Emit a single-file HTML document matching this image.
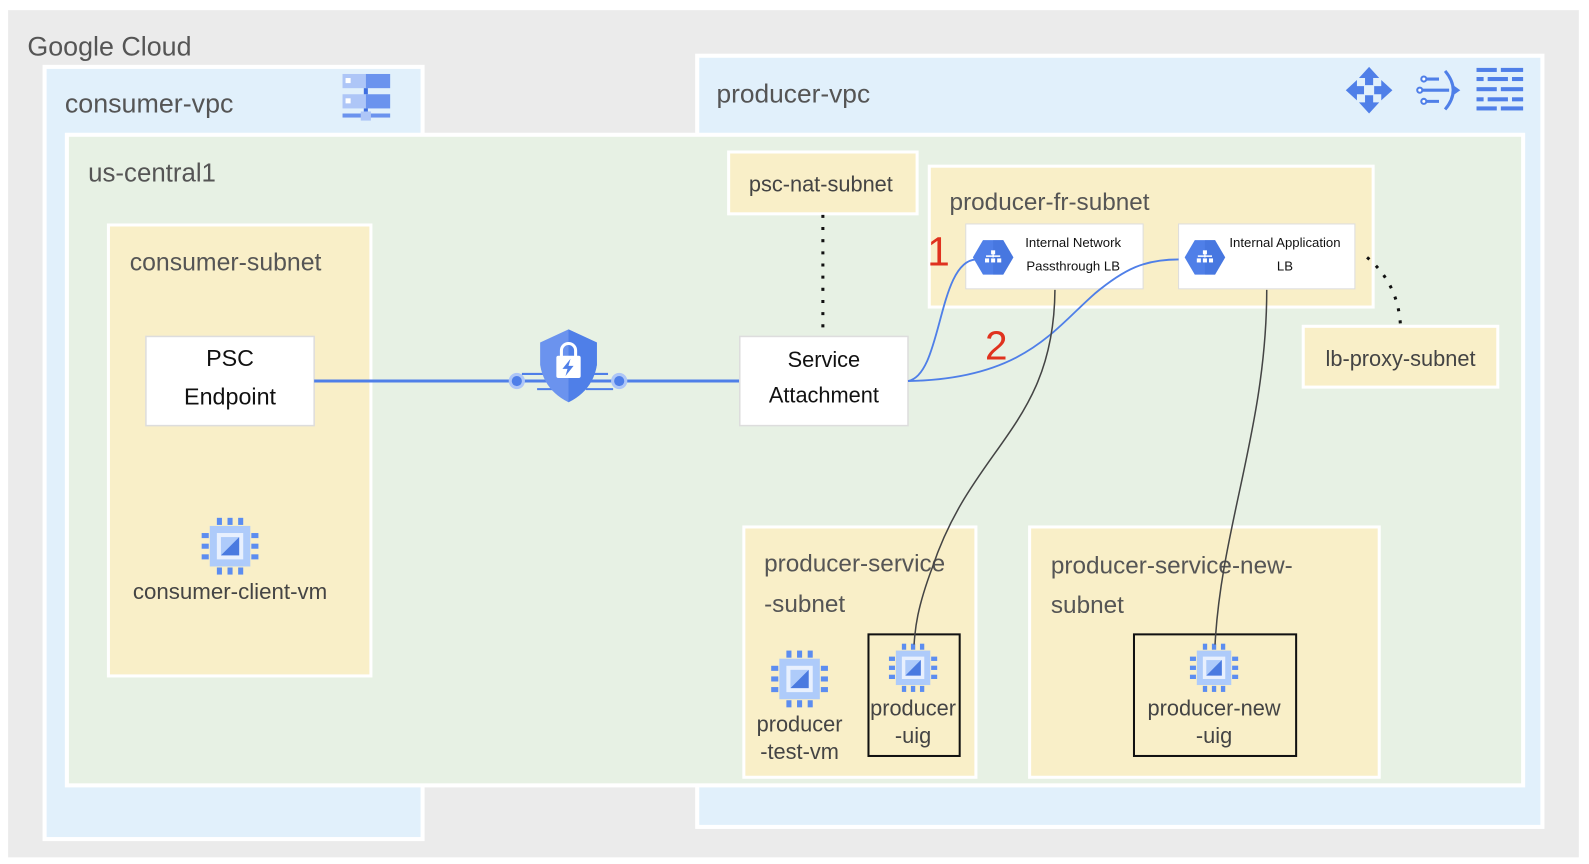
<!DOCTYPE html>
<html><head><meta charset="utf-8"><style>
html,body{margin:0;padding:0;background:#fff;}
svg{display:block;}
text{font-family:"Liberation Sans",sans-serif;}
</style></head><body>
<svg width="1589" height="864" viewBox="0 0 1568 852.6" preserveAspectRatio="none" xmlns="http://www.w3.org/2000/svg">
<defs>
<g id="chip">
 <rect x="-20" y="-20" width="40" height="40" fill="#aecbfa"/>
 <rect x="-13" y="-13" width="26" height="26" fill="#e8f0fe"/>
 <rect x="-9" y="-9" width="18" height="18" fill="#aecbfa"/>
 <polygon points="9,-9 9,9 -9,9" fill="#4a7ae0"/>
 <g fill="#5c8df0">
  <rect x="-13" y="-28" width="5" height="7"/><rect x="-2.5" y="-28" width="5" height="7"/><rect x="8" y="-28" width="5" height="7"/>
  <rect x="-13" y="21" width="5" height="7"/><rect x="-2.5" y="21" width="5" height="7"/><rect x="8" y="21" width="5" height="7"/>
  <rect x="-28" y="-13" width="7" height="5"/><rect x="-28" y="-2.5" width="7" height="5"/><rect x="-28" y="8" width="7" height="5"/>
  <rect x="21" y="-13" width="7" height="5"/><rect x="21" y="-2.5" width="7" height="5"/><rect x="21" y="8" width="7" height="5"/>
 </g>
</g>
<g id="lbicon">
 <polygon points="-10,-17 10,-17 20,0 10,17 -10,17 -20,0" fill="#4f7fe8"/>
 <polygon points="0,-17 10,-17 20,0 10,17 0,17" fill="#3f6fd8" opacity="0.5"/>
 <g fill="#fff"><rect x="-2" y="-7" width="4" height="4"/><rect x="-7" y="-2" width="14" height="1.5"/><rect x="-0.7" y="-3" width="1.4" height="3"/>
 <rect x="-8" y="1" width="4" height="4"/><rect x="-2" y="1" width="4" height="4"/><rect x="4" y="1" width="4" height="4"/></g>
</g>
</defs>
<rect x="8" y="10" width="1550" height="836" fill="#ebebeb"/>
<text x="27" y="55" font-size="26.5" fill="#555">Google Cloud</text>
<!-- consumer vpc -->
<rect x="44" y="66" width="373" height="762" fill="#e1f0fb" stroke="#fff" stroke-width="4"/>
<text x="64" y="111" font-size="26.5" fill="#555">consumer-vpc</text>
<g>
 <rect x="338" y="73" width="23" height="14" fill="#aec6f7"/><rect x="361" y="73" width="24" height="14" fill="#6b93ee"/>
 <rect x="341" y="77" width="5" height="5" fill="#fff"/>
 <rect x="338" y="93" width="23" height="14" fill="#aec6f7"/><rect x="361" y="93" width="24" height="14" fill="#6b93ee"/>
 <rect x="341" y="97" width="5" height="5" fill="#fff"/>
 <rect x="359" y="87" width="4" height="6" fill="#3f6fe0"/><rect x="359" y="107" width="4" height="5" fill="#3f6fe0"/>
 <rect x="338" y="112" width="47" height="4" fill="#6b93ee"/><rect x="356" y="110" width="10" height="9" fill="#aec6f7"/>
</g>
<!-- producer vpc -->
<rect x="688" y="55" width="834" height="761" fill="#e1f0fb" stroke="#fff" stroke-width="4"/>
<text x="707" y="101" font-size="26" fill="#555">producer-vpc</text>
<g fill="#4f7fe8">
 <polygon points="1351,66 1361,77 1355,77 1355,84 1347,84 1347,77 1341,77"/>
 <polygon points="1351,112 1361,101 1355,101 1355,94 1347,94 1347,101 1341,101"/>
 <polygon points="1328,89 1339,79 1339,85 1346,85 1346,93 1339,93 1339,99"/>
 <polygon points="1374,89 1363,79 1363,85 1356,85 1356,93 1363,93 1363,99"/>
</g>
<g stroke="#4f7fe8" stroke-width="3" fill="none">
 <path d="M1426,70 Q1442,89 1426,108"/>
 <line x1="1400" y1="89" x2="1430" y2="89"/><line x1="1404" y1="78" x2="1420" y2="78"/><line x1="1404" y1="100" x2="1420" y2="100"/>
</g>
<g fill="#fff" stroke="#4f7fe8" stroke-width="2"><circle cx="1401" cy="89" r="2.5"/><circle cx="1405" cy="78" r="2.5"/><circle cx="1405" cy="100" r="2.5"/></g>
<line x1="1434" y1="89" x2="1436" y2="89" stroke="#4f7fe8" stroke-width="3"/>
<polygon points="1434,84 1441,89 1434,94" fill="#4f7fe8"/>
<g fill="#4f7fe8">
 <rect x="1457" y="67" width="20" height="4"/><rect x="1481" y="67" width="22" height="4"/>
 <rect x="1457" y="76" width="7" height="4"/><rect x="1468" y="76" width="20" height="4"/><rect x="1492" y="76" width="11" height="4"/>
 <rect x="1457" y="86" width="20" height="4"/><rect x="1481" y="86" width="22" height="4"/>
 <rect x="1457" y="96" width="7" height="4"/><rect x="1468" y="96" width="20" height="4"/><rect x="1492" y="96" width="11" height="4"/>
 <rect x="1457" y="105" width="20" height="4"/><rect x="1481" y="105" width="22" height="4"/>
</g>
<!-- region -->
<rect x="66" y="133" width="1437" height="642" fill="#e7f1e4" stroke="#fff" stroke-width="4"/>
<text x="87" y="179" font-size="25.5" fill="#555">us-central1</text>
<!-- consumer subnet -->
<rect x="107" y="222" width="259" height="445" fill="#f9efc8" stroke="#fff" stroke-width="3"/>
<text x="128" y="267" font-size="24.5" fill="#555">consumer-subnet</text>
<rect x="144" y="332" width="166" height="88" fill="#fff" stroke="#ddd" stroke-width="1.5"/>
<text x="227" y="361" font-size="23" fill="#111" text-anchor="middle">PSC</text>
<text x="227" y="399" font-size="23" fill="#111" text-anchor="middle">Endpoint</text>
<use href="#chip" x="227" y="539"/>
<text x="227" y="591" font-size="22" fill="#444" text-anchor="middle">consumer-client-vm</text>
<!-- psc line -->
<line x1="310" y1="376" x2="730" y2="376" stroke="#4f7fe8" stroke-width="3"/>
<circle cx="510" cy="376" r="8" fill="#aec6f7"/><circle cx="510" cy="376" r="5" fill="#4f7fe8"/>
<circle cx="611" cy="376" r="8" fill="#aec6f7"/><circle cx="611" cy="376" r="5" fill="#4f7fe8"/>
<g stroke="#4f7fe8" stroke-width="2"><line x1="515" y1="369" x2="540" y2="369"/><line x1="530" y1="384" x2="545" y2="384"/><line x1="580" y1="369" x2="600" y2="369"/><line x1="578" y1="384" x2="605" y2="384"/></g>
<path d="M561,325 L589,338 L589,360 Q585,385 561,397 Q537,385 533,360 L533,338 Z" fill="#6b93ee"/>
<path d="M561,325 L589,338 L589,360 Q585,385 561,397 Z" fill="#4f7fe8"/>
<path d="M554,352 v-6 a7,7 0 0 1 14,0 v6" fill="none" stroke="#fff" stroke-width="3"/>
<rect x="549" y="351" width="24" height="22" rx="2" fill="#fff"/>
<polygon points="563,354 555,364 560,364 558,371 566,361 561,361" fill="#4f7fe8"/>
<!-- psc-nat -->
<rect x="719" y="150" width="186" height="61" fill="#f9efc8" stroke="#fff" stroke-width="3"/>
<text x="810" y="189" font-size="21.5" fill="#444" text-anchor="middle">psc-nat-subnet</text>
<line x1="812" y1="212" x2="812" y2="332" stroke="#111" stroke-width="3" stroke-dasharray="3,9"/>
<!-- fr subnet -->
<rect x="917" y="164" width="438" height="139" fill="#f9efc8" stroke="#fff" stroke-width="3"/>
<text x="937" y="207" font-size="24" fill="#555">producer-fr-subnet</text>
<rect x="953" y="221" width="175" height="64" fill="#fff" stroke="#ddd"/>
<use href="#lbicon" x="980" y="254"/>
<text x="1059" y="244" font-size="13" fill="#111" text-anchor="middle">Internal Network</text>
<text x="1059" y="267" font-size="13" fill="#111" text-anchor="middle">Passthrough LB</text>
<rect x="1163" y="221" width="174" height="64" fill="#fff" stroke="#ddd"/>
<use href="#lbicon" x="1189" y="254"/>
<text x="1268" y="244" font-size="13" fill="#111" text-anchor="middle">Internal Application</text>
<text x="1268" y="267" font-size="13" fill="#111" text-anchor="middle">LB</text>
<!-- lb-proxy -->
<rect x="1286" y="322" width="192" height="60" fill="#f9efc8" stroke="#fff" stroke-width="3"/>
<text x="1382" y="361" font-size="21.5" fill="#444" text-anchor="middle">lb-proxy-subnet</text>
<path d="M1349,254 Q1380,280 1382,322" fill="none" stroke="#111" stroke-width="3" stroke-dasharray="3,9"/>
<!-- service attachment -->
<rect x="730" y="332" width="166" height="88" fill="#fff" stroke="#ddd" stroke-width="1.5"/>
<text x="813" y="362" font-size="21.5" fill="#111" text-anchor="middle">Service</text>
<text x="813" y="397" font-size="21.5" fill="#111" text-anchor="middle">Attachment</text>
<!-- numbers -->
<text x="915" y="262" font-size="40" fill="#e0321e">1</text>
<text x="972" y="355" font-size="40" fill="#e0321e">2</text>
<!-- blue curves -->
<path d="M896,376 C930,370 925,258 963,256" fill="none" stroke="#4f7fe8" stroke-width="1.8"/>
<path d="M896,376 C1010,374 1040,325 1080,290 C1110,265 1130,256 1163,256" fill="none" stroke="#4f7fe8" stroke-width="1.8"/>
<!-- service subnets -->
<rect x="734" y="520" width="229" height="247" fill="#f9efc8" stroke="#fff" stroke-width="3"/>
<text x="754" y="564" font-size="24" fill="#555">producer-service</text>
<text x="754" y="604" font-size="24" fill="#555">-subnet</text>
<use href="#chip" x="789" y="670"/>
<text x="789" y="722" font-size="21.5" fill="#444" text-anchor="middle">producer</text>
<text x="789" y="749" font-size="21.5" fill="#444" text-anchor="middle">-test-vm</text>
<rect x="857" y="626" width="90" height="120" fill="none" stroke="#111" stroke-width="2"/>
<use href="#chip" x="901" y="659" transform="translate(901,659) scale(0.85) translate(-901,-659)"/>
<text x="901" y="706" font-size="21.5" fill="#444" text-anchor="middle">producer</text>
<text x="901" y="733" font-size="21.5" fill="#444" text-anchor="middle">-uig</text>
<rect x="1016" y="520" width="345" height="247" fill="#f9efc8" stroke="#fff" stroke-width="3"/>
<text x="1037" y="566" font-size="24" fill="#555">producer-service-new-</text>
<text x="1037" y="605" font-size="24" fill="#555">subnet</text>
<rect x="1119" y="626" width="160" height="120" fill="none" stroke="#111" stroke-width="2"/>
<use href="#chip" x="1198" y="659" transform="translate(1198,659) scale(0.85) translate(-1198,-659)"/>
<text x="1198" y="706" font-size="21.5" fill="#444" text-anchor="middle">producer-new</text>
<text x="1198" y="733" font-size="21.5" fill="#444" text-anchor="middle">-uig</text>
<!-- dark lines -->
<path d="M1041,286 C1040,420 960,440 920,560 C905,600 903,620 902,636" fill="none" stroke="#444" stroke-width="1.5"/>
<path d="M1250,286 C1250,420 1205,520 1199,636" fill="none" stroke="#444" stroke-width="1.5"/>
</svg>
</body></html>
